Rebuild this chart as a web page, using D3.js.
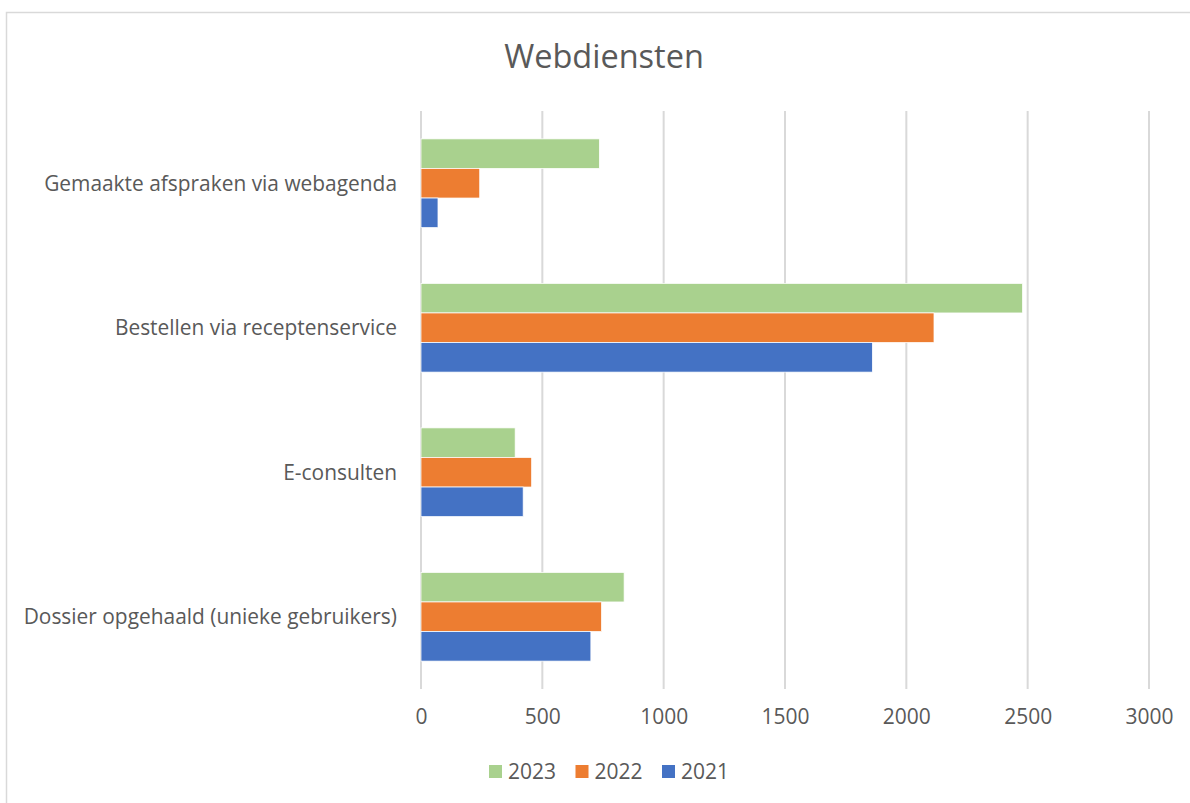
<!DOCTYPE html>
<html>
<head>
<meta charset="utf-8">
<script src="https://cdn.jsdelivr.net/npm/d3@7"></script>
<style>
  body { margin: 0; background: #fff; }
  svg text { font-family: "Open Sans", sans-serif; fill: #595959; }
</style>
</head>
<body>
<div id="chart"></div>
<script>
const categories = [
  "Gemaakte afspraken via webagenda",
  "Bestellen via receptenservice",
  "E-consulten",
  "Dossier opgehaald (unieke gebruikers)"
];
const years = ["2023", "2022", "2021"];
const values2023 = [735, 2479, 388, 837];
const values2022 = [242, 2114, 456, 744];
const values2021 = [70, 1860, 421, 700];
const xTicks = [0, 500, 1000, 1500, 2000, 2500, 3000];
const colors = { "2023": "#a9d18e", "2022": "#ed7d31", "2021": "#4472c4" };

const seriesByYear = { "2023": values2023, "2022": values2022, "2021": values2021 };

const width = 1190, height = 803;
const margin = { top: 111, right: 41, bottom: 114, left: 421 };
const plotW = width - margin.left - margin.right;
const plotH = height - margin.top - margin.bottom;

const svg = d3.select("#chart").append("svg")
  .attr("width", width)
  .attr("height", height);

// chart border
svg.append("rect")
  .attr("x", 6.5).attr("y", 12.5)
  .attr("width", 1200).attr("height", 820)
  .attr("fill", "none")
  .attr("stroke", "#d9d9d9")
  .attr("stroke-width", 1.5);

svg.append("text")
  .attr("x", 604).attr("y", 68)
  .attr("text-anchor", "middle")
  .attr("font-size", 32.5)
  .text("Webdiensten");

const g = svg.append("g")
  .attr("transform", `translate(${margin.left}, ${margin.top})`);

const x = d3.scaleLinear().domain([0, 3000]).range([0, plotW]);
const y = d3.scaleBand().domain(categories).range([0, plotH])
  .paddingInner(0.386).paddingOuter(0.193);
const yInner = d3.scaleBand().domain(years).range([0, y.bandwidth()]);

// gridlines
g.selectAll(".grid")
  .data(xTicks)
  .enter()
  .append("line")
  .attr("class", "grid")
  .attr("x1", d => x(d)).attr("x2", d => x(d))
  .attr("y1", 0).attr("y2", plotH)
  .attr("stroke", "#d9d9d9")
  .attr("stroke-width", 2);

// bars
const groups = g.selectAll(".cat")
  .data(categories)
  .enter()
  .append("g")
  .attr("class", "cat")
  .attr("transform", d => `translate(0, ${y(d)})`);

groups.selectAll("rect")
  .data((d, i) => years.map(yr => ({ year: yr, value: seriesByYear[yr][i] })))
  .enter()
  .append("rect")
  .attr("x", x(0))
  .attr("y", d => yInner(d.year))
  .attr("width", d => x(d.value) - x(0))
  .attr("height", yInner.bandwidth())
  .attr("fill", d => colors[d.year])
  .attr("stroke", "#fff")
  .attr("stroke-width", 0.75);

// category labels
g.selectAll(".cat-label")
  .data(categories)
  .enter()
  .append("text")
  .attr("class", "cat-label")
  .attr("x", -24)
  .attr("y", d => y(d) + y.bandwidth() / 2)
  .attr("dy", "0.35em")
  .attr("text-anchor", "end")
  .attr("font-size", 20.9)
  .text(d => d);

// x axis labels
const xAxis = g.append("g")
  .attr("transform", `translate(0, ${plotH})`)
  .call(d3.axisBottom(x).tickValues(xTicks).tickFormat(d3.format("d")).tickSize(0).tickPadding(20));
xAxis.select(".domain").remove();
xAxis.selectAll("text")
  .attr("font-size", 21)
  .attr("fill", "#595959")
  .style("font-family", "'Open Sans', sans-serif");

// legend
const legend = svg.append("g").attr("transform", "translate(489, 772)");
const legendItems = legend.selectAll(".leg")
  .data(years)
  .enter()
  .append("g")
  .attr("class", "leg")
  .attr("transform", (d, i) => `translate(${i * 86.5}, 0)`);
legendItems.append("rect")
  .attr("x", 0).attr("y", -7)
  .attr("width", 13).attr("height", 13)
  .attr("fill", d => colors[d]);
legendItems.append("text")
  .attr("x", 19).attr("y", 0)
  .attr("dy", "0.35em")
  .attr("font-size", 21)
  .text(d => d);
</script>
</body>
</html>
